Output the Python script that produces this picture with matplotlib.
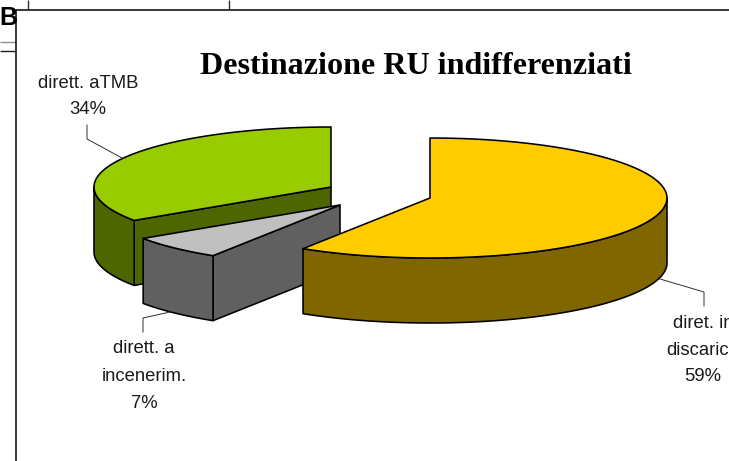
import matplotlib
matplotlib.use("Agg")
import matplotlib.pyplot as plt
from matplotlib.patches import Polygon, Rectangle
import numpy as np

# valori (le etichette mostrano il valore arrotondato)
categorie = ["diret. in\ndiscarica", "dirett. a\nincenerim.", "dirett. aTMB"]
percentuali = [59.0, 6.6, 34.4]
titolo = "Destinazione RU indifferenziati"

colori_top = ["#FFCC00", "#C0C0C0", "#99CC00"]
colori_lato = ["#806600", "#606060", "#4D6600"]

# centro di ogni fetta in pixel (le fette sono esplose)
centri = [(430, 198), (340, 205), (331, 187)]
A = 237
B = 60
H = 65

fig = plt.figure(figsize=(7.29, 4.61), dpi=100)
ax = fig.add_axes([0, 0, 1, 1])
ax.set_xlim(0, 729)
ax.set_ylim(461, 0)
ax.axis("off")

# linee della tabella dietro al grafico
for xs, ys, c in [([28, 28], [0, 10], "#303030"), ([229, 229], [0, 10], "#303030"),
                  ([0, 16], [42, 42], "#909090"), ([0, 16], [51.5, 51.5], "#202020")]:
    ax.plot(xs, ys, color=c, lw=1.0, solid_capstyle="butt")
ax.text(-1, 18, "B", family="Liberation Sans", fontweight="bold", fontsize=18,
        ha="left", va="center")
# il riquadro bianco del grafico copre la B
ax.add_patch(Rectangle((16.5, 10.5), 720, 460, facecolor="white", edgecolor="black", lw=1.1, zorder=2))


def arco(c, a1, a2):
    t = np.radians(np.linspace(a1, a2, 80))
    return np.column_stack([c[0] + A * np.cos(t), c[1] - B * np.sin(t)])


def poly(punti, colore):
    ax.add_patch(Polygon(punti, closed=True, facecolor=colore, edgecolor="black",
                         lw=1.15, joinstyle="round", zorder=3))


# angoli delle fette in senso orario partendo dalle ore 12
bordi = 90 - np.cumsum([0] + percentuali) * 3.6
giu = np.array([0, H])

# ordine: verde, grigia, gialla (la gialla sta davanti)
for i in [2, 1, 0]:
    c = np.array(centri[i])
    a_ini = bordi[i] % 360
    a_fine = bordi[i + 1] % 360
    if a_ini <= a_fine:
        a_ini += 360
    rim = arco(c, a_ini, a_fine)
    if i == 0:
        # fetta gialla: solo parete esterna
        lato = arco(c, a_fine, 360)
    else:
        # parete del taglio rivolta verso chi guarda
        p = rim[0]
        poly([c, p, p + giu, c + giu], colori_lato[i])
        if i == 1:
            lato = arco(c, a_fine, a_ini)
        else:
            lato = arco(c, 180, a_ini)
    poly(np.vstack([lato, (lato + giu)[::-1]]), colori_lato[i])
    poly(np.vstack([c, rim]), colori_top[i])

# etichette e linee guida
testo = dict(family="Liberation Sans", fontsize=13.3, color="#1a1a1a", ha="center", va="center", zorder=4)
pos_righe = [(703, [323.5, 350.5, 376.5]), (144, [348.5, 376.5, 403.5]), (88, [83, 109])]
guide = [([660, 704, 704], [279, 292, 306]),
         ([143, 143, 170], [332, 318, 312]),
         ([87, 87, 122], [125, 139, 158])]
for i in range(3):
    righe = categorie[i].split("\n") + ["%.0f%%" % percentuali[i]]
    x, ys = pos_righe[i]
    for r, y in zip(righe, ys):
        ax.text(x, y, r, **testo)
    ax.plot(guide[i][0], guide[i][1], color="#303030", lw=0.7, zorder=3)

ax.text(416, 66.5, titolo, family="Liberation Serif", fontweight="bold", fontsize=23.1,
        ha="center", va="center", color="black", zorder=4)

fig.savefig("out.png", dpi=100)
